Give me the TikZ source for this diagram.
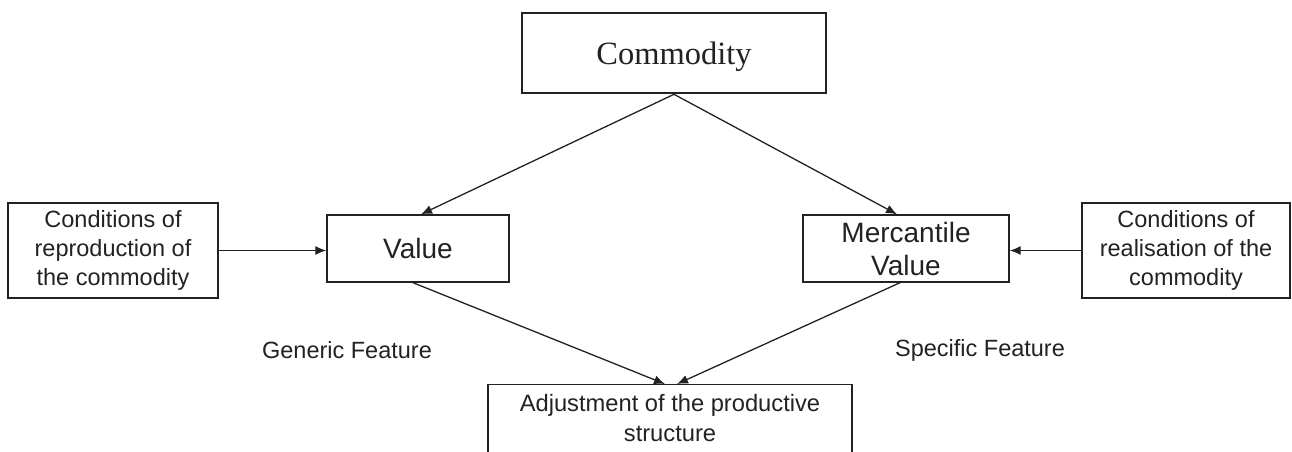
\documentclass[tikz,border=0pt]{standalone}
\usepackage{fontspec}
\setmainfont{Liberation Sans}
\newfontfamily\timesfont{Liberation Serif}
\usepackage{xcolor}
\usetikzlibrary{arrows.meta, positioning}
\definecolor{inkgray}{HTML}{222222}

\begin{document}
\begin{tikzpicture}[x=1pt, y=-1pt,
    box/.style={draw=inkgray, line width=1.4pt, text=inkgray, align=center, inner sep=0pt},
    condbox/.style={box, minimum width=210pt, minimum height=95pt,
        font=\fontsize{23.5}{29}\selectfont},
    valbox/.style={box, minimum height=67pt, font=\fontsize{28}{33}\selectfont},
    lbl/.style={text=inkgray, font=\fontsize{23.5}{28}\selectfont},
    arr/.style={draw=inkgray, line width=1.3pt, -{Latex[length=11pt,width=9pt]}}]
    \useasboundingbox (0,0) rectangle (1292,452);
    \clip (0,0) rectangle (1292,452);
    % boxes
    \node[box, line width=2.6pt, minimum width=304pt, minimum height=80pt, text depth=0pt,
        font=\timesfont\fontsize{32.5}{36}\selectfont] (commodity) at (674,53) {Commodity};
    \node[valbox, minimum width=182pt] (value) at (418,248.5) {Value};
    \node[valbox, minimum width=206pt] (mercvalue) at (906,248.5) {Mercantile\\Value};
    \node[condbox] (condrepro) at (113,250.5) {Conditions of\\reproduction of\\the commodity};
    \node[condbox, minimum width=208pt] (condreal) at (1186,250.5) {Conditions of\\realisation of the\\commodity};
    \node[box, anchor=north, minimum width=364pt, inner ysep=10pt, text depth=70pt,
        font=\fontsize{23.7}{30}\selectfont] (adjust) at (670,384) {Adjustment of the productive\\structure};
    % labels
    \node[lbl] (generic) at (347,350) {Generic Feature};
    \node[lbl] (specific) at (980,350) {Specific Feature};
    % connectors
    \draw[arr] (commodity.south) -- ([xshift=3pt]value.north);
    \draw[arr] (commodity.south) -- ([xshift=-9pt]mercvalue.north);
    \draw[arr] (condrepro.east) -- (condrepro.east -| value.west);
    \draw[arr] (condreal.west) -- (condreal.west -| mercvalue.east);
    \draw[arr] ([xshift=-5pt]value.south) -- ([xshift=-5pt]adjust.north);
    \draw[arr] ([xshift=-6pt]mercvalue.south) -- ([xshift=7pt]adjust.north);
\end{tikzpicture}
\end{document}
